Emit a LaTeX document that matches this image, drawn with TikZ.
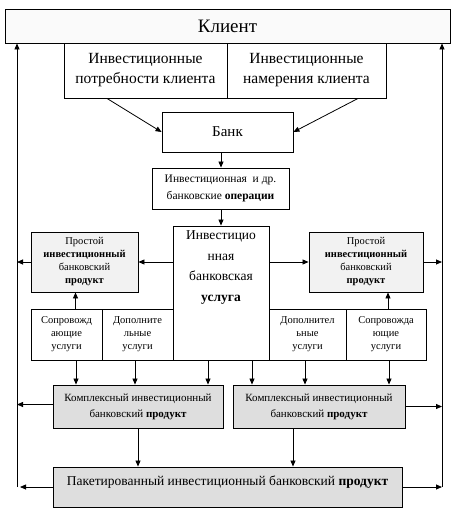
\documentclass[tikz,border=0pt]{standalone}
\usepackage{fontspec}
\setmainfont{Liberation Serif}
\usetikzlibrary{arrows.meta}
\begin{document}
\begin{tikzpicture}[x=1pt,y=-1pt,
  box/.style={draw=black,line width=0.9pt,inner sep=1pt,align=center},
  arr/.style={line width=0.8pt,-{Triangle[length=6pt,width=5pt]}}]
\useasboundingbox[fill=white] (0,0) rectangle (454,511);
% nodes
\node[box,fill=black!2,minimum width=445pt,minimum height=34pt,font=\fontsize{19}{21}\selectfont] (client) at (227.5,26) {Клиент};
\node[box,minimum width=163pt,minimum height=55pt,font=\fontsize{15.5}{20}\selectfont] (needs) at (145.5,70.5) {Инвестиционные\\потребности клиента};
\node[box,minimum width=159pt,minimum height=55pt,font=\fontsize{15.5}{20}\selectfont] (intent) at (306.5,70.5) {Инвестиционные\\намерения клиента};
\node[box,minimum width=131pt,minimum height=40pt,font=\fontsize{15}{18}\selectfont] (bank) at (227.5,132) {Банк};
\node[box,minimum width=137pt,minimum height=41pt,font=\fontsize{11.5}{17}\selectfont] (ops) at (220.5,188.5) {Инвестиционная \ и др.\\банковские \textbf{операции}};
\node[box,minimum width=96pt,minimum height=134pt,text depth=54pt,font=\fontsize{13.5}{20.5}\selectfont] (svc) at (221,293) {Инвестицио\\нная\\банковская\\\textbf{услуга}};
\node[box,fill=black!5,minimum width=107pt,minimum height=60pt,font=\fontsize{10.5}{13}\selectfont] (simL) at (84.5,262) {Простой\\\textbf{инвестиционный}\\банковский\\\textbf{продукт}};
\node[box,fill=black!5,minimum width=114pt,minimum height=60pt,font=\fontsize{10.5}{13}\selectfont] (simR) at (366,262) {Простой\\\textbf{инвестиционный}\\банковский\\\textbf{продукт}};
\node[box,minimum width=71pt,minimum height=51pt,font=\fontsize{10.5}{13}\selectfont] (soprL) at (66.5,334.5) {Сопровожд\\ающие\\услуги};
\node[box,minimum width=71pt,minimum height=51pt,font=\fontsize{10.5}{13}\selectfont] (dopL) at (137.5,334.5) {Дополните\\льные\\услуги};
\node[box,minimum width=77pt,minimum height=51pt,font=\fontsize{10.5}{13}\selectfont] (dopR) at (307.5,334.5) {Дополнител\\ьные\\услуги};
\node[box,minimum width=80pt,minimum height=51pt,font=\fontsize{10.5}{13}\selectfont] (soprR) at (386,334.5) {Сопровожда\\ющие\\услуги};
\node[box,fill=black!13,minimum width=170pt,minimum height=43pt,font=\fontsize{11}{16}\selectfont] (compL) at (138,406.5) {Комплексный инвестиционный\\банковский \textbf{продукт}};
\node[box,fill=black!13,minimum width=172pt,minimum height=43pt,font=\fontsize{11}{16}\selectfont] (compR) at (319,406.5) {Комплексный инвестиционный\\банковский \textbf{продукт}};
\node[box,fill=black!13,minimum width=349pt,minimum height=40pt,text depth=12pt,font=\fontsize{13.5}{16}\selectfont] (pack) at (227.5,487) {Пакетированный инвестиционный банковский \textbf{продукт}};
% side lines
\coordinate (L) at (17,487);
\coordinate (R) at (442,487);
\draw[arr] (L) -- (L |- client.south);
\draw[arr] (R) -- (R |- client.south);
% connectors
\draw[arr] ([xshift=-38.5pt]needs.south) -- (bank.west);
\draw[arr] ([xshift=51.5pt]intent.south) -- (bank.east);
\draw[arr] (bank.south -| svc.north) -- (ops.north -| svc.north);
\draw[arr] (ops.south -| svc.north) -- (svc.north);
\draw[arr] (svc.west |- simL.east) -- (simL.east);
\draw[arr] (svc.east |- simR.west) -- (simR.west);
\draw[arr] (simL.west) -- (simL.west -| L);
\draw[arr] (simR.east) -- (simR.east -| R);
\draw[arr] ([xshift=9pt]soprL.north) -- ([xshift=9pt]soprL.north |- simL.south);
\draw[arr] ([xshift=2pt]soprR.north) -- ([xshift=2pt]soprR.north |- simR.south);
\draw[arr] ([xshift=9.5pt]soprL.south) -- ([xshift=9.5pt]soprL.south |- compL.north);
\draw[arr] ([xshift=-2.5pt]dopL.south) -- ([xshift=-2.5pt]dopL.south |- compL.north);
\draw[arr] ([xshift=-13pt]svc.south) -- ([xshift=-13pt]svc.south |- compL.north);
\draw[arr] ([xshift=31pt]svc.south) -- ([xshift=31pt]svc.south |- compR.north);
\draw[arr] ([xshift=-2.5pt]dopR.south) -- ([xshift=-2.5pt]dopR.south |- compR.north);
\draw[arr] ([xshift=3pt]soprR.south) -- ([xshift=3pt]soprR.south |- compR.north);
\draw[arr] ([yshift=2pt]compL.west) -- ([yshift=2pt]compL.west -| L);
\draw[arr] (compR.east) -- (compR.east -| R);
\draw[arr] (compL.south) -- (compL.south |- pack.north);
\draw[arr] ([xshift=-26pt]compR.south) -- ([xshift=-26pt]compR.south |- pack.north);
\draw[arr] (pack.west) -- ([xshift=3pt]L);
\draw[arr] (pack.east) -- (R);
\end{tikzpicture}
\end{document}
